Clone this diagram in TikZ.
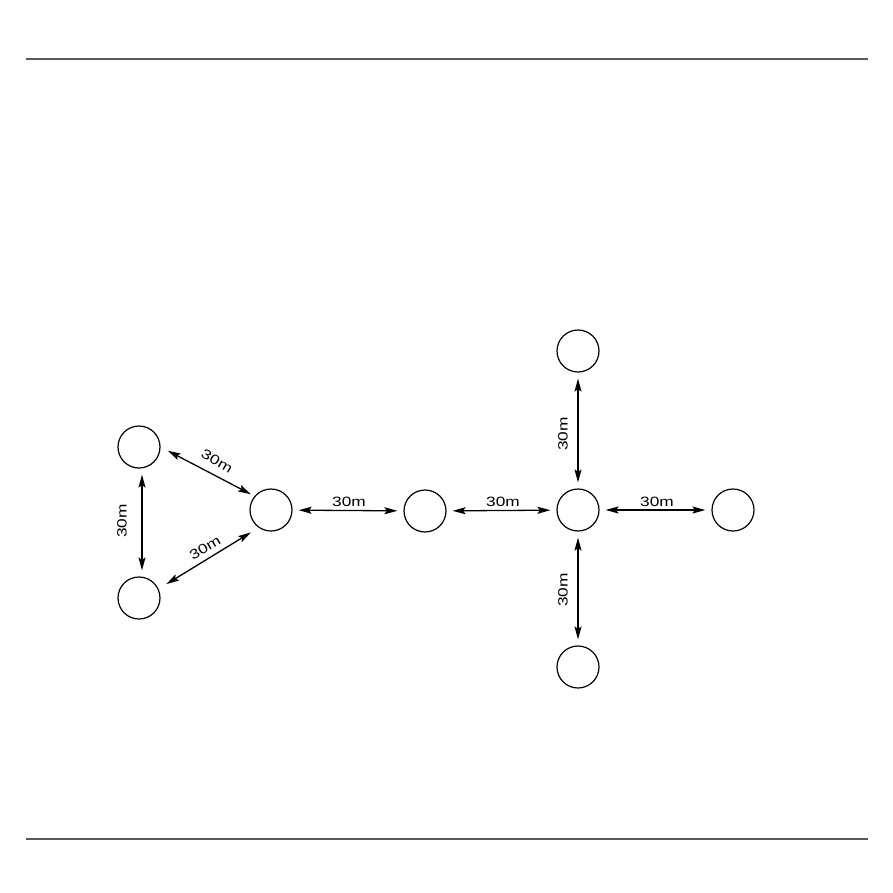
\documentclass[tikz,border=0pt]{standalone}
\usepackage{fontspec}
\setmainfont{Liberation Sans}
\newfontfamily\lblfont[FakeStretch=1.28]{Liberation Sans}
\usetikzlibrary{arrows.meta}
\begin{document}
\begin{tikzpicture}[x=1pt,y=-1pt,
  site/.style={draw, circle, minimum size=42pt, inner sep=0pt, line width=1.2pt},
  link/.style={line width=1.3pt, {Stealth[length=13pt,width=7pt,inset=2.5pt]}-{Stealth[length=13pt,width=7pt,inset=2.5pt]}, shorten >=6pt, shorten <=6pt},
  lbl/.style={inner sep=0pt, font=\lblfont\fontsize{13.5}{15}\selectfont},
  rule/.style={draw=black!65, line width=1.5pt}]
\useasboundingbox (0,0) rectangle (893,893);
\fill[white] (0,0) rectangle (893,893);
\coordinate (t1) at (26,59); \coordinate (t2) at (868,59);
\coordinate (b1) at (26,839); \coordinate (b2) at (868,839);
\draw[rule] (t1) -- (t2);
\draw[rule] (b1) -- (b2);
\node[site] (A) at (139,447) {};
\node[site] (B) at (139,598) {};
\node[site] (C) at (271,510) {};
\node[site] (D) at (425,511) {};
\node[site] (E) at (578,510) {};
\node[site] (F) at (578,351) {};
\node[site] (G) at (733,510) {};
\node[site] (H) at (578,667) {};
\draw[link] ([xshift=3pt]A.south) -- ([xshift=3pt]B.north);
\draw[link, shorten <=8pt, shorten >=4pt] (A.0) -- (C.140);
\draw[link, shorten <=9pt, shorten >=9pt] (B.25) -- (C.235);
\draw[link] (C) -- (D);
\draw[link] (D) -- (E);
\draw[link] (E) -- (G);
\draw[link] (E) -- (F);
\draw[link] (E) -- (H);
\node[lbl, rotate=90] (lab) at (122,521) {30m};
\node[lbl, rotate=-30] (lac) at (217,461) {30m};
\node[lbl, rotate=30] (lbc) at (205,548) {30m};
\node[lbl] (lcd) at (349,502) {30m};
\node[lbl] (lde) at (503,502) {30m};
\node[lbl] (leg) at (657,502) {30m};
\node[lbl, rotate=90] (lef) at (563,434) {30m};
\node[lbl, rotate=90] (leh) at (563,590) {30m};
\end{tikzpicture}
\end{document}
